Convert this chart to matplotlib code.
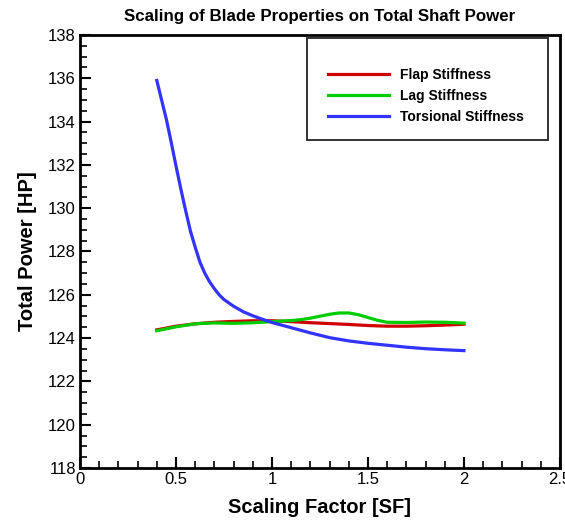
import numpy as np
import matplotlib.pyplot as plt
from matplotlib.ticker import MultipleLocator
from matplotlib.patches import Rectangle

plt.rcParams['font.family'] = ['Liberation Sans', 'DejaVu Sans']

# values
sf_flap = [0.4, 0.5, 0.6, 0.7, 0.8, 0.9, 1.0, 1.1, 1.2, 1.3, 1.4, 1.5, 1.6, 1.7, 1.8, 1.9, 2.0]
flap = [124.38, 124.55, 124.66, 124.73, 124.77, 124.80, 124.80, 124.76, 124.71, 124.67, 124.63,
        124.58, 124.55, 124.55, 124.57, 124.60, 124.64]

sf_lag = [0.4, 0.5, 0.6, 0.7, 0.8, 0.9, 1.0, 1.1, 1.15, 1.2, 1.25, 1.3, 1.35, 1.4, 1.45,
          1.5, 1.55, 1.6, 1.7, 1.8, 1.9, 2.0]
lag = [124.34, 124.52, 124.66, 124.70, 124.68, 124.71, 124.76, 124.81, 124.85, 124.92, 125.01,
       125.10, 125.16, 125.16, 125.08, 124.95, 124.82, 124.73, 124.72, 124.74, 124.73, 124.69]

sf_tor = [0.4, 0.425, 0.45, 0.475, 0.5, 0.525, 0.55, 0.575, 0.6, 0.625, 0.65, 0.675, 0.7, 0.725,
          0.75, 0.8, 0.85, 0.9, 0.95, 1.0, 1.1, 1.2, 1.3, 1.4, 1.5, 1.6, 1.7, 1.8, 1.9, 2.0]
torsion = [135.9, 135.0, 134.1, 133.05, 131.95, 130.9, 129.9, 128.95, 128.2, 127.5, 127.0, 126.6,
           126.28, 126.0, 125.78, 125.47, 125.22, 125.03, 124.87, 124.72, 124.48, 124.24, 124.02,
           123.87, 123.76, 123.67, 123.58, 123.51, 123.46, 123.42]

fig = plt.figure(figsize=(5.65, 5.27), dpi=100)
ax = fig.add_axes([0.1416, 0.112, 0.8494, 0.8216])

ax.plot(sf_flap, flap, color='#d00000', lw=2.3, label='Flap Stiffness')
ax.plot(sf_lag, lag, color='#00cc00', lw=2.3, label='Lag Stiffness')
ax.plot(sf_tor, torsion, color='#3333ff', lw=2.3, label='Torsional Stiffness')

ax.set_xlim(0, 2.5)
ax.set_ylim(118, 138)
ax.xaxis.set_major_locator(MultipleLocator(0.5))
ax.xaxis.set_minor_locator(MultipleLocator(0.1))
ax.yaxis.set_major_locator(MultipleLocator(2))
ax.yaxis.set_minor_locator(MultipleLocator(0.5))
ax.xaxis.set_major_formatter(plt.FuncFormatter(lambda v, p: f'{v:g}'))
ax.tick_params(which='major', direction='in', length=8, width=1.5, labelsize=12, pad=3)
ax.tick_params(which='minor', direction='in', length=5, width=1.2)
for s in ax.spines.values():
    s.set_linewidth(2)

ax.set_title('Scaling of Blade Properties on Total Shaft Power', fontsize=12.2, fontweight='bold', pad=10)
ax.set_xlabel('Scaling Factor [SF]', fontsize=14.5, fontweight='bold', labelpad=8)
ax.set_ylabel('Total Power [HP]', fontsize=14.5, fontweight='bold', labelpad=8)

# legend box drawn separately (tecplot style)
W, H = 565.0, 527.0
fig.patches.append(Rectangle((307 / W, 1 - 140 / H), 241 / W, 102 / H, transform=fig.transFigure,
                             fill=False, edgecolor='#222222', lw=1.3))
leg = fig.legend(loc='upper left', bbox_to_anchor=(328 / W, 1 - 68 / H), frameon=False,
                 handlelength=4.4, borderpad=0, borderaxespad=0,
                 prop={'weight': 'bold', 'size': 10}, labelspacing=0.5, handletextpad=0.8)

plt.savefig('out.png', dpi=100)
